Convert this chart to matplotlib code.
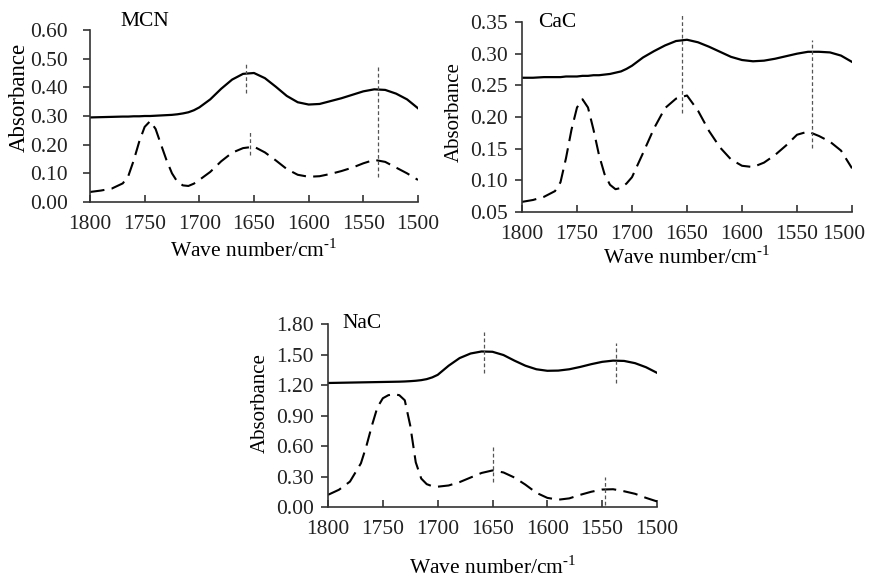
import matplotlib
matplotlib.use("Agg")
import matplotlib.pyplot as plt
import matplotlib.transforms as mtransforms
import numpy as np

plt.rcParams['font.family'] = ['Liberation Serif', 'DejaVu Serif']
plt.rcParams['mathtext.fontset'] = 'custom'
plt.rcParams['mathtext.rm'] = 'Liberation Serif'

# wave numbers (cm-1) shared by all series
wave = [1800, 1790, 1780,
        1770, 1765, 1760, 1755, 1750, 1745, 1740, 1735, 1730, 1725, 1720, 1715, 1710, 1705, 1700,
        1690, 1680, 1670, 1660, 1650, 1640, 1630, 1620, 1610, 1600,
        1590, 1580, 1570, 1560, 1550, 1540, 1530, 1520, 1510, 1500]

mcn_solid = [0.295, 0.296, 0.297,
             0.298, 0.298, 0.299, 0.299, 0.300, 0.300, 0.301, 0.302, 0.303, 0.304, 0.306, 0.309, 0.313, 0.320, 0.330,
             0.358, 0.395, 0.427, 0.447, 0.450, 0.432, 0.402, 0.370, 0.348, 0.340,
             0.342, 0.352, 0.362, 0.374, 0.386, 0.393, 0.391, 0.378, 0.358, 0.327]
mcn_dash = [0.035, 0.040, 0.047,
            0.065, 0.090, 0.145, 0.210, 0.262, 0.282, 0.255, 0.200, 0.146, 0.100, 0.070, 0.058, 0.056, 0.064, 0.077,
            0.105, 0.142, 0.172, 0.188, 0.193, 0.173, 0.145, 0.115, 0.095, 0.088,
            0.090, 0.098, 0.108, 0.120, 0.135, 0.147, 0.140, 0.120, 0.100, 0.077]

cac_solid = [0.262, 0.262, 0.263,
             0.263, 0.263, 0.264, 0.264, 0.264, 0.265, 0.265, 0.266, 0.266, 0.267, 0.268, 0.270, 0.272, 0.276, 0.281,
             0.294, 0.304, 0.313, 0.320, 0.322, 0.318, 0.311, 0.303, 0.295, 0.290,
             0.288, 0.289, 0.292, 0.296, 0.300, 0.303, 0.303, 0.302, 0.297, 0.287]
cac_dash = [0.066, 0.069, 0.074,
            0.083, 0.097, 0.135, 0.180, 0.215, 0.228, 0.215, 0.180, 0.140, 0.110, 0.093, 0.086, 0.088, 0.095, 0.105,
            0.143, 0.182, 0.214, 0.229, 0.234, 0.210, 0.178, 0.152, 0.133, 0.123,
            0.121, 0.128, 0.140, 0.155, 0.172, 0.177, 0.170, 0.161, 0.147, 0.119]

nac_solid = [1.220, 1.222, 1.224,
             1.226, 1.227, 1.228, 1.229, 1.230, 1.231, 1.232, 1.233, 1.235, 1.238, 1.242, 1.248, 1.258, 1.275, 1.300,
             1.390, 1.465, 1.510, 1.530, 1.527, 1.495, 1.440, 1.390, 1.355, 1.340,
             1.342, 1.355, 1.378, 1.405, 1.428, 1.440, 1.437, 1.415, 1.375, 1.320]
nac_dash = [0.12, 0.17, 0.25,
            0.43, 0.60, 0.80, 0.98, 1.07, 1.10, 1.11, 1.10, 1.05, 0.80, 0.44, 0.28, 0.225, 0.205, 0.200,
            0.212, 0.245, 0.29, 0.335, 0.36, 0.34, 0.29, 0.22, 0.14, 0.09,
            0.072, 0.085, 0.12, 0.15, 0.172, 0.175, 0.155, 0.13, 0.09, 0.055]

# peak marks: (wave number, y from, y to)
mcn_marks = [(1657, 0.38, 0.49), (1654, 0.165, 0.245), (1537, 0.087, 0.47)]
cac_marks = [(1654.5, 0.206, 0.361), (1536, 0.151, 0.322)]
nac_marks = [(1658, 1.32, 1.72), (1537, 1.22, 1.61), (1650, 0.25, 0.61), (1547, 0.02, 0.30)]

panels = [
    dict(name="MCN", solid=mcn_solid, dash=mcn_dash, marks=mcn_marks,
         rect=[0.1033, 0.6505, 0.3766, 0.2976], yticks=np.arange(0, 0.61, 0.1),
         ylim=(0, 0.6), name_pos=(0.168, 1.047), ylab=(-0.215, 0.61), ylab_size=16.5,
         ypad=11, xlab=-0.279, shift_last=0),
    dict(name="CaC", solid=cac_solid, dash=cac_dash, marks=cac_marks,
         rect=[0.5993, 0.6332, 0.3789, 0.3287], yticks=np.arange(0.05, 0.351, 0.05),
         ylim=(0.05, 0.35), name_pos=(0.106, 1.0), ylab=(-0.205, 0.526), ylab_size=15,
         ypad=5, xlab=-0.242, shift_last=-6),
    dict(name="NaC", solid=nac_solid, dash=nac_dash, marks=nac_marks,
         rect=[0.3766, 0.1228, 0.3777, 0.3166], yticks=np.arange(0, 1.81, 0.3),
         ylim=(0, 1.8), name_pos=(0.103, 1.005), ylab=(-0.207, 0.57), ylab_size=15,
         ypad=5, xlab=-0.333, shift_last=0),
]

fig = plt.figure(figsize=(8.71, 5.78), dpi=100)

for p in panels:
    ax = fig.add_axes(p["rect"])
    ax.plot(wave, p["solid"], color='black', linewidth=1.6)
    ax.plot(wave, p["dash"], color='black', linewidth=1.5, dashes=(7, 3.5))
    for w, y0, y1 in p["marks"]:
        ax.plot([w, w], [y0, y1], color='#555555', linewidth=0.9, dashes=(3, 2), clip_on=False)

    ax.set_xlim(1800, 1500)
    ax.set_ylim(*p["ylim"])
    ax.set_xticks(range(1800, 1499, -50))
    ax.set_yticks(p["yticks"])
    ax.yaxis.set_major_formatter(plt.FormatStrFormatter('%.2f'))
    ax.tick_params(axis='x', direction='in', length=5, width=1.1, labelsize=15.5, pad=9,
                   colors='#222222')
    ax.tick_params(axis='y', direction='out', length=5, width=1.1, labelsize=15.5, pad=p["ypad"],
                   colors='#222222')

    # pull the last x tick label in a little so it stays on the page
    if p["shift_last"]:
        lab = ax.get_xticklabels()[-1]
        off = mtransforms.ScaledTranslation(p["shift_last"] / 72, 0, fig.dpi_scale_trans)
        lab.set_transform(lab.get_transform() + off)

    for side in ['top', 'right']:
        ax.spines[side].set_visible(False)
    for side in ['left', 'bottom']:
        ax.spines[side].set_linewidth(1.2)
        ax.spines[side].set_color('#333333')

    ax.set_xlabel('Wave number/cm$^{\\mathregular{\u20101}}$', fontsize=15.5)
    ax.xaxis.set_label_coords(0.5, p["xlab"])
    ax.xaxis.label.set_va('center')
    ax.set_ylabel('Absorbance', fontsize=p["ylab_size"])
    ax.yaxis.set_label_coords(*p["ylab"])
    ax.yaxis.label.set_va('center')

    ax.text(p["name_pos"][0], p["name_pos"][1], p["name"], transform=ax.transAxes,
            ha='center', va='center', fontsize=15.5)

plt.savefig('out.png', dpi=100)
plt.close()
